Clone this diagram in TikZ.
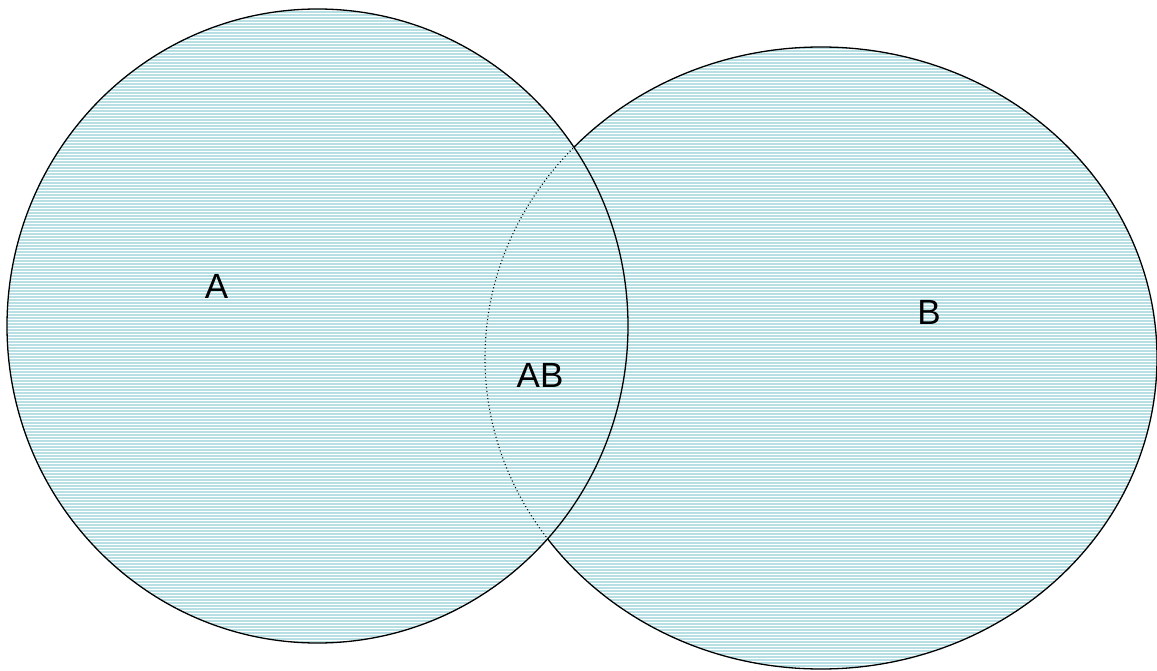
\documentclass[tikz,border=0pt]{standalone}
\usepackage{fontspec}
\setmainfont{Liberation Sans}
\usetikzlibrary{positioning}
\definecolor{setfill}{RGB}{184,224,228}

\begin{document}
\begin{tikzpicture}[x=1pt, y=-1pt,
  every node/.style={font=\fontsize{35}{42}\selectfont, inner sep=0pt},
  outline/.style={line width=1.3pt, black},
  hatch/.style={white, line width=1pt},
  hidden/.style={line width=1.1pt, dash pattern=on 1pt off 2.6pt}]
  \useasboundingbox (0,0) rectangle (1157,671);
  \coordinate (ca) at (317.5,326);
  \coordinate (cb) at (821,358);
  % set B
  \begin{scope}
    \clip (cb) ellipse [x radius=336, y radius=311];
    \fill[setfill] (0,0) rectangle (1157,671);
    \foreach \y in {1,4,...,670}
      \draw[hatch] (0,\y+0.5) -- (1157,\y+0.5);
  \end{scope}
  \draw[outline] (cb) ellipse [x radius=336, y radius=311];
  % set A, on top
  \begin{scope}
    \clip (ca) ellipse [x radius=310.5, y radius=317];
    \fill[setfill] (0,0) rectangle (1157,671);
    \foreach \y in {1,4,...,670}
      \draw[hatch] (0,\y+0.5) -- (1157,\y+0.5);
    \draw[hidden] (cb) ellipse [x radius=336, y radius=311];
  \end{scope}
  \draw[outline] (ca) ellipse [x radius=310.5, y radius=317];
  % labels
  \node (a) at (216.5,286) {A};
  \node (ab) at (540,375) {AB};
  \node (b) at (929,312) {B};
\end{tikzpicture}
\end{document}
